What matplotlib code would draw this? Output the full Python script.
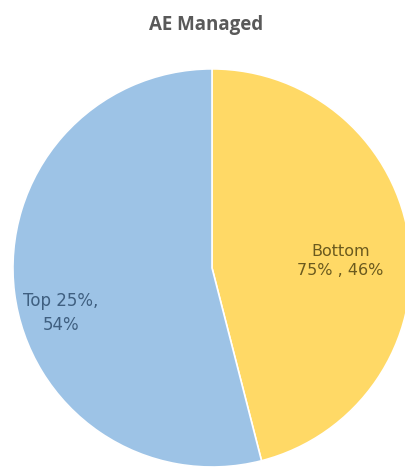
import matplotlib
matplotlib.use('Agg')
import matplotlib.pyplot as plt

# AE managed split between bottom 75% and top 25%
groups = ['Bottom\n75%', 'Top 25%']
shares = [46, 54]
colors = ['#FFD966', '#9DC3E6']
text_colors = ['#6B5A1E', '#3F5F80']

fig = plt.figure(figsize=(4.05, 4.70), dpi=100)
fig.patch.set_facecolor('white')
ax = fig.add_axes([0.032, 0.0064, 0.983, 0.847])

wedges, _ = ax.pie(shares, colors=colors, startangle=90, counterclock=False,
                   radius=1, wedgeprops=dict(edgecolor='white', linewidth=1.2))
ax.set_xlim(-1, 1)
ax.set_ylim(-1, 1)
ax.set_aspect('equal')

ax.text(0.645, 0.035, '%s , %d%%' % (groups[0], shares[0]), ha='center', va='center',
        fontsize=11.5, color=text_colors[0], family='DejaVu Sans', linespacing=1.4)
ax.text(-0.76, -0.225, '%s,\n%d%%' % (groups[1], shares[1]), ha='center', va='center',
        fontsize=12, color=text_colors[1], family='DejaVu Sans', linespacing=1.4)

fig.text(0.508, 0.946, 'AE Managed', ha='center', va='center', fontsize=13.5,
         fontweight='bold', color='#595959', family='Open Sans')

fig.savefig('out.png', dpi=100)
